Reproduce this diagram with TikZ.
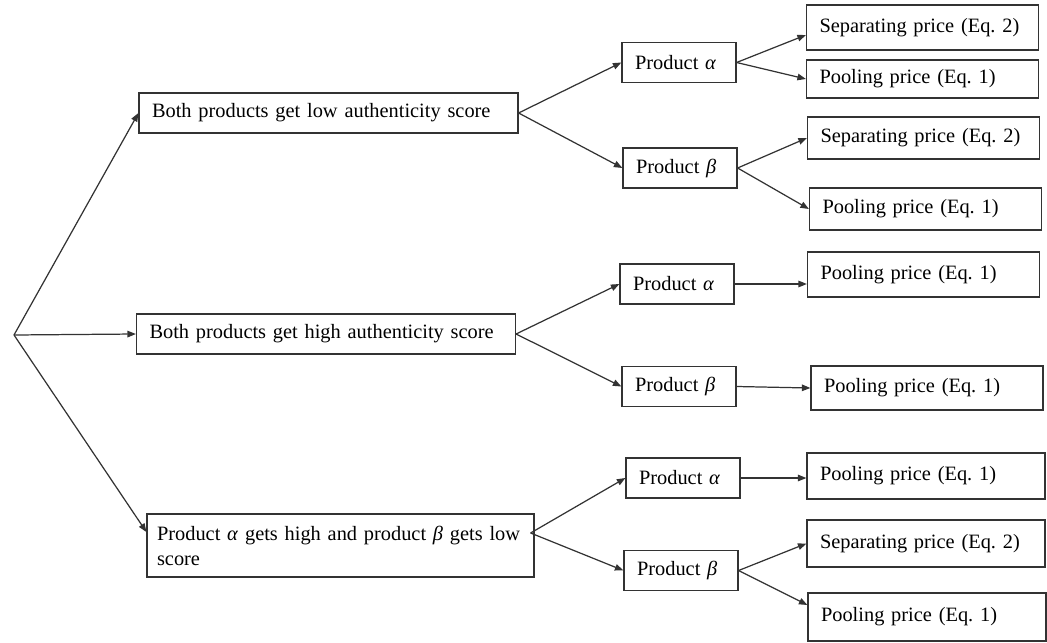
\documentclass[tikz,border=0pt]{standalone}
\usepackage{fontspec}
\setmainfont{Liberation Serif}
\usetikzlibrary{arrows.meta,positioning,calc}

\begin{document}
\begin{tikzpicture}[
    x=0.02cm, y=-0.02cm,
    every node/.style={font=\fontsize{11.6}{14.2}\selectfont},
    scen/.style={rectangle, draw=black!80, line width=0.7pt, inner xsep=0.26cm, text width=7.06cm, align=left, minimum height=0.8cm},
    prod/.style={rectangle, draw=black!80, line width=0.7pt, inner xsep=0.26cm, text width=1.76cm, align=left, minimum height=0.8cm},
    price/.style={rectangle, draw=black!80, line width=0.7pt, inner xsep=0.26cm, text width=4.12cm, align=left, minimum height=0.88cm},
    arrow/.style={-{Triangle[length=0.17cm, width=0.13cm]}, draw=black!80, line width=0.7pt}
]
\useasboundingbox (0,0) rectangle (1047,642);

\coordinate (root) at (14,335);
\node[scen] (low) at (328.5,113) {Both products get low authenticity score};
\node[scen] (high) at (326,334) {Both products get high authenticity score};
\node[scen, inner xsep=0.2cm, text width=7.34cm, minimum height=1.26cm] (mixed) at (340.5,545.5) {\mbox{Product \textit{α} gets high and product \textit{β} gets low}\\score};

\node[prod] (alow) at (679,62.5) {Product \textit{α}};
\node[prod] (blow) at (680,168) {Product \textit{β}};
\node[prod] (ahigh) at (677,284) {Product \textit{α}};
\node[prod] (bhigh) at (679,386.5) {Product \textit{β}};
\node[prod] (amix) at (683,478) {Product \textit{α}};
\node[prod] (bmix) at (681,570.5) {Product \textit{β}};

\node[price, minimum height=0.9cm] (seplowa) at (922.5,27.5) {Separating price (Eq.\ 2)};
\node[price, minimum height=0.76cm] (poollowa) at (922.5,79) {Pooling price (Eq.\ 1)};
\node[price, minimum height=0.84cm] (seplowb) at (923.5,138) {Separating price (Eq.\ 2)};
\node[price, minimum height=0.84cm] (poollowb) at (925.5,209) {Pooling price (Eq.\ 1)};
\node[price, minimum height=0.9cm] (poolhigha) at (923.5,274.5) {Pooling price (Eq.\ 1)};
\node[price] (poolhighb) at (927,388) {Pooling price (Eq.\ 1)};
\node[price, text width=4.24cm, minimum height=0.92cm] (poolmixa) at (926,476) {Pooling price (Eq.\ 1)};
\node[price, text width=4.24cm, minimum height=0.94cm] (sepmixb) at (926,543.5) {Separating price (Eq.\ 2)};
\node[price, text width=4.24cm, minimum height=0.96cm] (poolmixb) at (927,617) {Pooling price (Eq.\ 1)};

% scenarios
\draw[arrow] (root) -- (low.west);
\draw[arrow] (root) -- (high.west);
\draw[arrow] (root) -- ([yshift=0.27cm]mixed.west);

% products
\draw[arrow] (low.east) -- (alow.west);
\draw[arrow] (low.east) -- (blow.west);
\draw[arrow] (high.east) -- (ahigh.west);
\draw[arrow] (high.east) -- (bhigh.west);
\coordinate (mixout) at ([xshift=-0.08cm, yshift=0.25cm]mixed.east);
\draw[arrow] (mixout) -- (amix.west);
\draw[arrow] (mixout) -- (bmix.west);

% prices
\draw[arrow] (alow.east) -- ([yshift=-0.15cm]seplowa.west);
\draw[arrow] (alow.east) -- (poollowa.west);
\draw[arrow] (blow.east) -- (seplowb.west);
\draw[arrow] (blow.east) -- (poollowb.west);
\draw[arrow] (ahigh.east) -- (ahigh.east -| poolhigha.west);
\draw[arrow] (bhigh.east) -- (poolhighb.west);
\draw[arrow] (amix.east) -- (amix.east -| poolmixa.west);
\draw[arrow] (bmix.east) -- (sepmixb.west);
\draw[arrow] (bmix.east) -- ([yshift=0.24cm]poolmixb.west);
\end{tikzpicture}
\end{document}
